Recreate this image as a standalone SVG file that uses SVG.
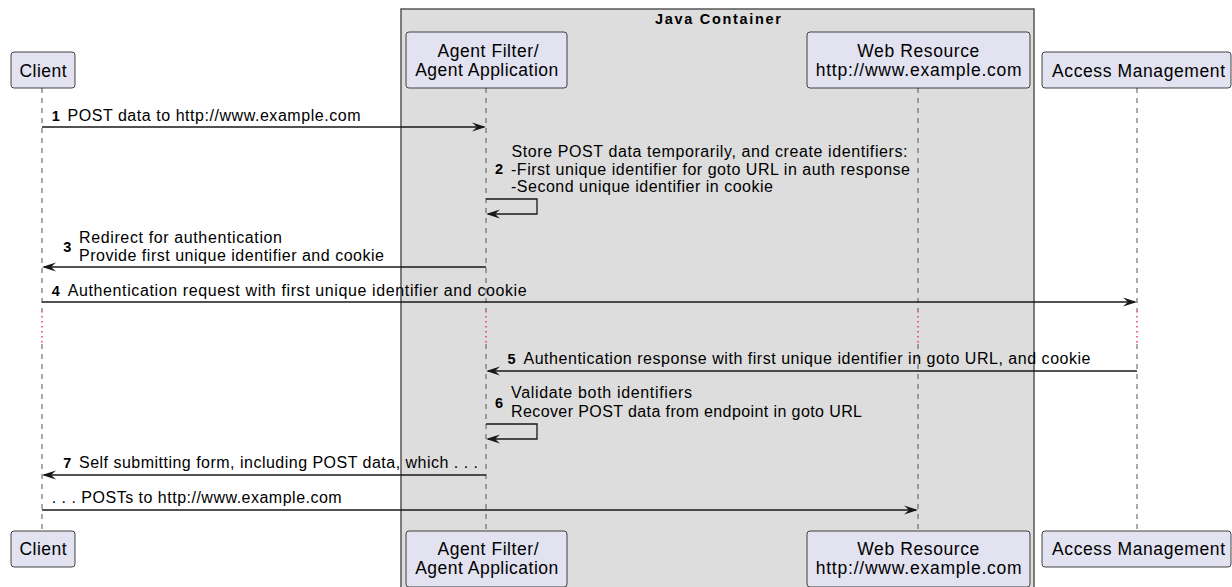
<svg xmlns="http://www.w3.org/2000/svg" width="1232" height="587" viewBox="0 0 1232 587">
<style>
.box{fill:#E2E2F0;stroke:#181818;stroke-width:0.8}
.pt{font-family:"Liberation Sans",Arial,sans-serif;font-size:17.5px;fill:#000;text-anchor:middle}
.mt{font-family:"Liberation Sans",Arial,sans-serif;font-size:16px;fill:#000}
.num{font-family:"Liberation Sans",Arial,sans-serif;font-size:14.5px;font-weight:bold;fill:#000}
.life{stroke:#555;stroke-width:1;stroke-dasharray:5,5;fill:none}
.delay{stroke:#E0205F;stroke-width:1.3;stroke-dasharray:1.5,3.5;fill:none}
.msg{stroke:#181818;stroke-width:1.3;fill:none}
.head{fill:#181818}
</style>
<rect x="401" y="9" width="633" height="590" fill="#DDDDDD" stroke="#555" stroke-width="1.5"/>
<text x="718" y="24" font-family="Liberation Sans,Arial,sans-serif" font-size="14.5" font-weight="bold" text-anchor="middle" textLength="126" lengthAdjust="spacing">Java Container</text>
<g id="lifelines">
<path class="life" d="M42,88V311M42,344V531M486,88V311M486,344V531M918,88V311M918,344V531M1137,88V311M1137,344V531"/>
<path class="delay" d="M42,311V344M486,311V344M918,311V344M1137,311V344"/>
</g>
<g id="client-top"><rect class="box" x="11" y="52" width="64" height="36" rx="3"/><text class="pt" x="43" y="77" textLength="47" lengthAdjust="spacing">Client</text></g>
<g id="agent-top"><rect class="box" x="406" y="32" width="161" height="56" rx="3"/><text class="pt" x="488" y="57" textLength="101" lengthAdjust="spacing">Agent Filter/</text><text class="pt" x="486.7" y="76" textLength="143" lengthAdjust="spacing">Agent Application</text></g>
<g id="web-top"><rect class="box" x="807" y="32" width="223" height="56" rx="3"/><text class="pt" x="918.3" y="56.5" textLength="122" lengthAdjust="spacing">Web Resource</text><text class="pt" x="918.7" y="76" textLength="206" lengthAdjust="spacing">http://www.example.com</text></g>
<g id="am-top"><rect class="box" x="1042" y="52" width="189" height="36" rx="3"/><text class="pt" x="1138.5" y="76.5" textLength="173" lengthAdjust="spacing">Access Management</text></g>
<g id="client-bottom"><rect class="box" x="11" y="531" width="64" height="36" rx="3"/><text class="pt" x="43" y="554.5" textLength="47" lengthAdjust="spacing">Client</text></g>
<g id="agent-bottom"><rect class="box" x="406" y="531" width="161" height="56" rx="3"/><text class="pt" x="488" y="555" textLength="101" lengthAdjust="spacing">Agent Filter/</text><text class="pt" x="486.7" y="574" textLength="143" lengthAdjust="spacing">Agent Application</text></g>
<g id="web-bottom"><rect class="box" x="807" y="531" width="223" height="56" rx="3"/><text class="pt" x="918.3" y="554.5" textLength="122" lengthAdjust="spacing">Web Resource</text><text class="pt" x="918.7" y="573.5" textLength="206" lengthAdjust="spacing">http://www.example.com</text></g>
<g id="am-bottom"><rect class="box" x="1042" y="531" width="189" height="36" rx="3"/><text class="pt" x="1138.5" y="554.5" textLength="173" lengthAdjust="spacing">Access Management</text></g>
<g id="connectors">
<path class="msg" d="M42,127H484"/><polygon class="head" points="486,127 472,122.5 477,127 472,131.5"/>
<path class="msg" d="M486,199H537V214H488"/><polygon class="head" points="486,214 500,209.5 495,214 500,218.5"/>
<path class="msg" d="M486,267H44"/><polygon class="head" points="42,267 56,262.5 51,267 56,271.5"/>
<path class="msg" d="M42,302H1135"/><polygon class="head" points="1137,302 1123,297.5 1128,302 1123,306.5"/>
<path class="msg" d="M1137,371H488"/><polygon class="head" points="486,371 500,366.5 495,371 500,375.5"/>
<path class="msg" d="M486,424H537V439H488"/><polygon class="head" points="486,439 500,434.5 495,439 500,443.5"/>
<path class="msg" d="M486,475H44"/><polygon class="head" points="42,475 56,470.5 51,475 56,479.5"/>
<path class="msg" d="M42,510H916"/><polygon class="head" points="918,510 904,505.5 909,510 904,514.5"/>
</g>
<g id="labels">
<text class="num" x="51.7" y="121">1</text><text class="mt" x="67.5" y="121" textLength="293" lengthAdjust="spacing">POST data to http://www.example.com</text>
<text class="num" x="495" y="174.3">2</text>
<text class="mt" x="511.5" y="156.7" textLength="396" lengthAdjust="spacing">Store POST data temporarily, and create identifiers:</text>
<text class="mt" x="511" y="174.5" textLength="399" lengthAdjust="spacing">-First unique identifier for goto URL in auth response</text>
<text class="mt" x="511" y="192.3" textLength="262" lengthAdjust="spacing">-Second unique identifier in cookie</text>
<text class="num" x="63.3" y="252.3">3</text>
<text class="mt" x="79" y="242.7" textLength="203" lengthAdjust="spacing">Redirect for authentication</text>
<text class="mt" x="79" y="260.7" textLength="305" lengthAdjust="spacing">Provide first unique identifier and cookie</text>
<text class="num" x="51.7" y="296">4</text><text class="mt" x="67.7" y="296" textLength="459" lengthAdjust="spacing">Authentication request with first unique identifier and cookie</text>
<text class="num" x="507.5" y="364">5</text><text class="mt" x="523.5" y="364" textLength="567" lengthAdjust="spacing">Authentication response with first unique identifier in goto URL, and cookie</text>
<text class="num" x="495" y="408.3">6</text>
<text class="mt" x="511" y="398.3" textLength="181" lengthAdjust="spacing">Validate both identifiers</text>
<text class="mt" x="511" y="416.7" textLength="351" lengthAdjust="spacing">Recover POST data from endpoint in goto URL</text>
<text class="num" x="63.3" y="468.3">7</text><text class="mt" x="79" y="468.3" textLength="399" lengthAdjust="spacing">Self submitting form, including POST data, which . . .</text>
<text class="mt" x="51.7" y="503.3" textLength="290" lengthAdjust="spacing">. . . POSTs to http://www.example.com</text>
</g>
</svg>
